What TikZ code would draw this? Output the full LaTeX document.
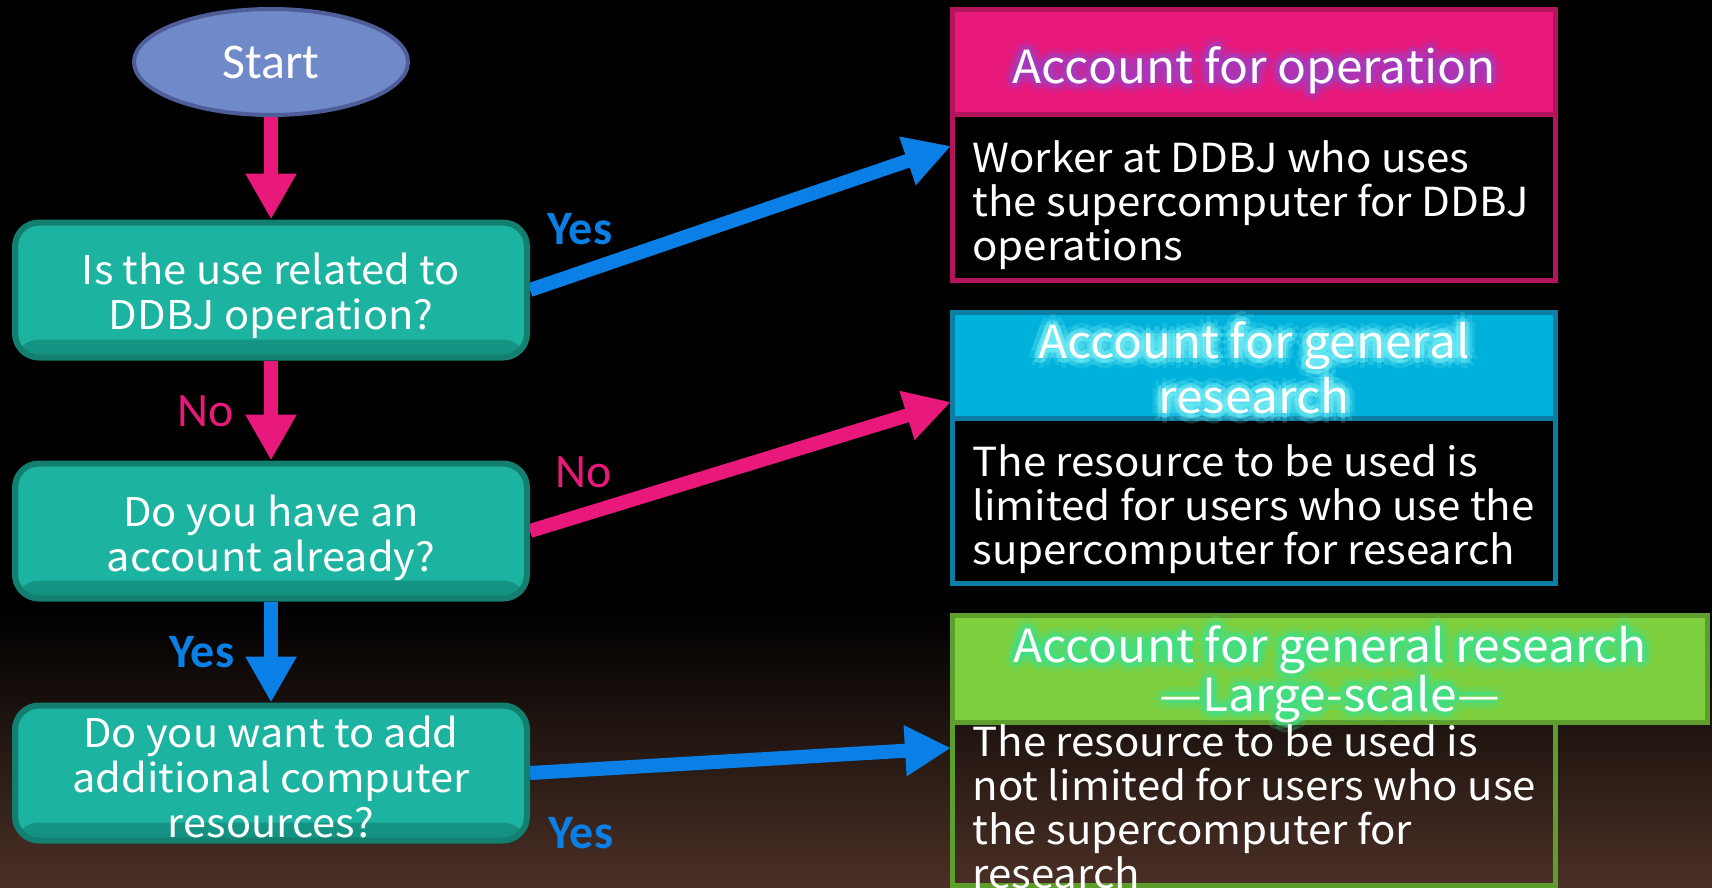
\documentclass[tikz,border=0pt]{standalone}
\usepackage{fontspec}
\setmainfont{Noto Sans CJK JP}[FakeStretch=1.05]
\newfontfamily\calib{Carlito}
\usetikzlibrary{arrows.meta,shapes.geometric,fit,calc}
\pgfdeclarelayer{bg}
\pgfdeclarelayer{arr}
\pgfdeclarelayer{boxes}
\pgfdeclarelayer{glow}
\pgfsetlayers{bg,arr,boxes,glow,main}
\definecolor{pinkc}{HTML}{E8197A}
\definecolor{bluec}{HTML}{0A7FE6}
\definecolor{tealc}{HTML}{1CB3A0}
\definecolor{tealbev}{HTML}{14907F}
\definecolor{tealdark}{HTML}{137F70}
\definecolor{startfill}{HTML}{7089C8}
\definecolor{startdraw}{HTML}{4F5E99}
\definecolor{hApink}{HTML}{E8197A}
\definecolor{hAdraw}{HTML}{B3155C}
\definecolor{hBfill}{HTML}{00B1DC}
\definecolor{hBdraw}{HTML}{0D7EA3}
\definecolor{hCfill}{HTML}{7ED03E}
\definecolor{hCdraw}{HTML}{5E9E2D}
\definecolor{glowA}{HTML}{A23CC0}
\definecolor{glowB}{HTML}{70ECF4}
\definecolor{glowC}{HTML}{3EE08A}
\definecolor{bgbrown}{HTML}{4B3026}
\tikzset{
  qbox/.style={draw=tealdark, fill=tealc, line width=3pt, rounded corners=12pt,
    minimum width=256pt, minimum height=67.5pt, inner sep=0pt,
    path picture={\shade[top color=tealc, bottom color=tealbev]
      ([yshift=9pt]path picture bounding box.south west) rectangle (path picture bounding box.south east);}},
  qtext/.style={text=white, align=center, font=\fontsize{19.8}{22.5}\selectfont, inner sep=0pt},
  startnode/.style={ellipse, draw=startdraw, fill=startfill, line width=2pt,
    minimum width=137pt, minimum height=53pt, text=white, font=\calib\fontsize{25}{30}\selectfont},
  hdrbox/.style={rectangle, inner sep=0pt, line width=2.5pt},
  hdrtext/.style={text=white, font=\fontsize{22.8}{25}\selectfont, inner sep=0pt},
  bodytext/.style={text=white, align=left, anchor=west, font=\fontsize{20}{22}\selectfont, inner sep=0pt},
  pinkarrow/.style={draw=pinkc, line width=7pt, -{Triangle[width=24pt,length=23pt]}},
  bluearrow/.style={draw=bluec, line width=7pt, -{Triangle[width=24pt,length=23pt]}},
  yeslabel/.style={text=bluec, font=\calib\bfseries\fontsize{24}{28}\selectfont, inner sep=0pt},
  nolabel/.style={text=pinkc, font=\calib\fontsize{24}{28}\selectfont, inner sep=0pt},
}
% header text with a soft coloured glow (faint shifted copies behind it)
\newcommand{\glowtext}[4]{%
  \begin{pgfonlayer}{glow}
  \foreach \ang in {0,45,...,315}{
    \node[hdrtext, text=#3, opacity=0.2] (#1h\ang) at ($(#2)+(\ang:5pt)$) {#4};
    \node[hdrtext, text=#3, opacity=0.45] (#1g\ang) at ($(#2)+(\ang:2.5pt)$) {#4};
  }
  \end{pgfonlayer}
  \node[hdrtext] (#1) at (#2) {#4};
}
\begin{document}
\begin{tikzpicture}[x=0.5pt,y=-0.5pt]
\useasboundingbox (0,0) rectangle (1712,888);
\begin{pgfonlayer}{bg}
  \fill[black] (0,0) rectangle (1712,888);
  \shade[top color=black, bottom color=bgbrown] (0,610) rectangle (1712,888);
\end{pgfonlayer}

% left column
\node[startnode] (start) at (271,62) {Start};
\node[qbox] (q1) at (271,290) {};
\node[qbox] (q2) at (271,531) {};
\node[qbox] (q3) at (271,773) {};
\node[qtext] (q1t) at (271,296) {Is the use related to\\DDBJ operation?};
\node[qtext] (q2t) at (271,538) {Do you have an\\account already?};
\node[qtext] (q3t) at (271,777) {Do you want to add\\additional computer\\resources?};

% right boxes
\begin{pgfonlayer}{boxes}
\node[hdrbox, draw=hAdraw, fit={(952.5,115) (1555.5,280.5)}] (bA) {};
\node[hdrbox, draw=hAdraw, fill=hApink, fit={(952.5,9.5) (1555.5,115)}] (hA) {};
\node[hdrbox, draw=hBdraw, fit={(952.5,418) (1555.5,583.5)}] (bB) {};
\node[hdrbox, draw=hBdraw, fill=hBfill, fit={(952.5,312.5) (1555.5,418)}] (hB) {};
\node[hdrbox, draw=hCdraw, fit={(952.5,722) (1555.5,885)}] (bC) {};
\node[hdrbox, draw=hCdraw, fill=hCfill, fit={(952.5,615.5) (1707.5,722)}] (hC) {};
\end{pgfonlayer}

\glowtext{tA}{1254,70}{glowA}{Account for operation}
\glowtext{tB1}{1254,346}{glowB}{Account for general}
\glowtext{tB2}{1254,396}{glowB}{research}
\glowtext{tC1}{1330,650}{glowC}{Account for general research}
\glowtext{tC2}{1330,699}{glowC}{—Large-scale—}

\node[bodytext] (xA) at (972,205) {Worker at DDBJ who uses\\the supercomputer for DDBJ\\operations};
\node[bodytext] (xB) at (972,509) {The resource to be used is\\limited for users who use the\\supercomputer for research};
\node[bodytext] (xC) at (972,807) {The resource to be used is\\not limited for users who use\\the supercomputer for\\research};

% arrow targets
\coordinate (tipA) at (951,146);
\coordinate (tipB) at (951,402);
\coordinate (tipC) at (951,748);

\begin{pgfonlayer}{arr}
  \draw[pinkarrow] (start.south) -- (q1.north);
  \draw[pinkarrow] (q1.south) -- (q2.north);
  \draw[bluearrow] (q2.south) -- (q3.north);
  \draw[bluearrow] (q1.east) -- (tipA);
  \draw[pinkarrow] (q2.east) -- (tipB);
  \draw[bluearrow] (q3.east) -- (tipC);
\end{pgfonlayer}

% labels
\node[nolabel] (lNo1) at (206,411) {No};
\node[yeslabel] (lYes1) at (202,652) {Yes};
\node[yeslabel] (lYesA) at (580,229) {Yes};
\node[nolabel] (lNoB) at (584,472) {No};
\node[yeslabel] (lYesC) at (581,833) {Yes};
\end{tikzpicture}
\end{document}
